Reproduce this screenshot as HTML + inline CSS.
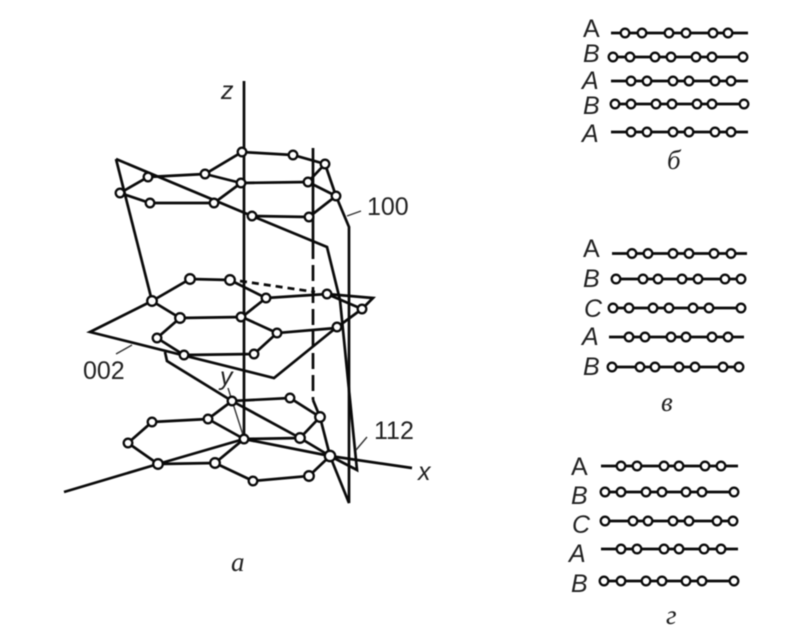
<!DOCTYPE html>
<html><head><meta charset="utf-8"><style>
html,body{margin:0;padding:0;background:#fff;width:792px;height:631px;overflow:hidden}
svg{display:block;filter:blur(0.45px)}
.s{font-family:"Liberation Sans",sans-serif;font-size:25px;fill:#222}
.i{font-style:italic}
.f{font-family:"Liberation Serif",serif;font-style:italic;font-size:27px;fill:#222}
.l{stroke:#0a0a0a;stroke-width:2.7;fill:none;stroke-linejoin:miter}
.t{stroke:#333;stroke-width:1.4;fill:none}
circle{fill:#fff;stroke:#0a0a0a;stroke-width:2.3}
</style></head><body>
<svg width="792" height="631" viewBox="0 0 792 631" xmlns="http://www.w3.org/2000/svg">
<g class="l">
<path d="M244 81V438"/>
<path d="M313 148V243"/>
<path d="M313 243V400" stroke-dasharray="16 6"/>
<path d="M313 400L320 417L330 456L349 503V227L336 196L325 164"/>
<path d="M116 159L252 216L327 247L340 300L357 470L330 456"/>
<path d="M116 159L152 301"/>
<path d="M152 301L90 332L274 378L337 327"/>
<path d="M327 294L373 298L362 309"/>
<path d="M240 281L315 292" stroke-dasharray="7 5"/>
<path d="M165 352L167 361L232 401L300 438L330 456"/>
<path d="M64 492L158 464L244 439L330 456L412 468"/>
<!-- top layer -->
<path d="M120 193L148 177L205 174L242 152L293 155L325 164L308 182L336 196L309 217L252 216"/>
<path d="M120 193L150 203L214 203L241 183L308 182"/>
<path d="M205 174L241 183"/>
<!-- middle layer -->
<path d="M152 301L190 279L230 280L266 298L242 317L180 318L152 301M180 318L157 338L184 355L254 354L277 333L336 328L362 309M266 298L327 294L362 309M242 317L277 333"/>
<!-- lower layer -->
<path d="M232 401L290 398L320 417L300 438L244 439L215 463L158 464L128 443L152 422L208 419L232 401M208 419L244 439M215 463L253 481L309 476L330 456"/>
</g>
<g class="t">
<path d="M228 388L243 435"/>
<path d="M347 216L361 211"/>
<path d="M356 450L367 437"/>
<path d="M116 354L132 345"/>
</g>
<g>
<circle cx="242" cy="152" r="4.300"/><circle cx="205" cy="174" r="4.300"/><circle cx="148" cy="177" r="4.300"/><circle cx="120" cy="193" r="4.300"/><circle cx="150" cy="203" r="4.300"/><circle cx="214" cy="203" r="4.300"/><circle cx="241" cy="183" r="4.300"/><circle cx="252" cy="216" r="4.300"/><circle cx="293" cy="155" r="4.300"/><circle cx="325" cy="164" r="4.300"/><circle cx="308" cy="182" r="4.300"/><circle cx="336" cy="196" r="4.300"/><circle cx="309" cy="217" r="4.300"/>
<circle cx="152" cy="301" r="4.800"/><circle cx="190" cy="279" r="4.800"/><circle cx="230" cy="280" r="4.800"/><circle cx="180" cy="318" r="4.800"/><circle cx="157" cy="338" r="4.300"/><circle cx="184" cy="355" r="4.300"/><circle cx="241" cy="317" r="4.300"/><circle cx="254" cy="354" r="4.300"/><circle cx="266" cy="298" r="4.300"/><circle cx="327" cy="294" r="4.300"/><circle cx="362" cy="309" r="4.300"/><circle cx="337" cy="327" r="4.300"/><circle cx="277" cy="333" r="4.300"/>
<circle cx="232" cy="401" r="4.300"/><circle cx="208" cy="419" r="4.300"/><circle cx="152" cy="422" r="4.300"/><circle cx="128" cy="443" r="4.300"/><circle cx="158" cy="464" r="4.800"/><circle cx="215" cy="463" r="4.800"/><circle cx="244" cy="439" r="4.300"/><circle cx="253" cy="481" r="4.300"/><circle cx="290" cy="398" r="4.300"/><circle cx="320" cy="417" r="4.800"/><circle cx="300" cy="438" r="4.800"/><circle cx="330" cy="456" r="5.200"/><circle cx="309" cy="476" r="4.800"/>
</g>
<text class="s i" x="221" y="99">z</text>
<text class="s" x="367" y="215">100</text>
<text class="s" x="83" y="379">002</text>
<text class="s" x="374" y="439">112</text>
<text class="s i" x="220" y="385">y</text>
<text class="s i" x="418" y="480">x</text>
<text class="f" x="231" y="571">a</text>
<g class="l">
<path d="M611 33H748M613 57H743M611 81H748M615 104H744M611 132H748"/>
<path d="M612 253.500H747M616 279H741M613 308H741M609 337H744M612 367H739"/>
<path d="M601 466H738M605 492H734M605 521H733M601 549H738M604 581H734"/>
</g>
<g>
<circle cx="625" cy="33" r="4.300"/><circle cx="642" cy="33" r="4.300"/><circle cx="669" cy="33" r="4.300"/><circle cx="686" cy="33" r="4.300"/><circle cx="713" cy="33" r="4.300"/><circle cx="728" cy="33" r="4.300"/>
<circle cx="613" cy="57" r="4.300"/><circle cx="630" cy="57" r="4.300"/><circle cx="655" cy="57" r="4.300"/><circle cx="671" cy="57" r="4.300"/><circle cx="696" cy="57" r="4.300"/><circle cx="712" cy="57" r="4.300"/><circle cx="743" cy="57" r="4.300"/>
<circle cx="631" cy="81" r="4.300"/><circle cx="647" cy="81" r="4.300"/><circle cx="673" cy="81" r="4.300"/><circle cx="689" cy="81" r="4.300"/><circle cx="715" cy="81" r="4.300"/><circle cx="731" cy="81" r="4.300"/>
<circle cx="615" cy="104" r="4.300"/><circle cx="631" cy="104" r="4.300"/><circle cx="656" cy="104" r="4.300"/><circle cx="672" cy="104" r="4.300"/><circle cx="697" cy="104" r="4.300"/><circle cx="712" cy="104" r="4.300"/><circle cx="744" cy="104" r="4.300"/>
<circle cx="631" cy="132" r="4.300"/><circle cx="647" cy="132" r="4.300"/><circle cx="673" cy="132" r="4.300"/><circle cx="689" cy="132" r="4.300"/><circle cx="715" cy="132" r="4.300"/><circle cx="731" cy="132" r="4.300"/>

<circle cx="632" cy="253.500" r="4.300"/><circle cx="648" cy="253.500" r="4.300"/><circle cx="673" cy="253.500" r="4.300"/><circle cx="689" cy="253.500" r="4.300"/><circle cx="714" cy="253.500" r="4.300"/><circle cx="731" cy="253.500" r="4.300"/>
<circle cx="616" cy="279" r="4.300"/><circle cx="643" cy="279" r="4.300"/><circle cx="658" cy="279" r="4.300"/><circle cx="682" cy="279" r="4.300"/><circle cx="698" cy="279" r="4.300"/><circle cx="725" cy="279" r="4.300"/><circle cx="741" cy="279" r="4.300"/>
<circle cx="613" cy="308" r="4.300"/><circle cx="629" cy="308" r="4.300"/><circle cx="653" cy="308" r="4.300"/><circle cx="669" cy="308" r="4.300"/><circle cx="693" cy="308" r="4.300"/><circle cx="709" cy="308" r="4.300"/><circle cx="741" cy="308" r="4.300"/>
<circle cx="629" cy="337" r="4.300"/><circle cx="645" cy="337" r="4.300"/><circle cx="671" cy="337" r="4.300"/><circle cx="686" cy="337" r="4.300"/><circle cx="712" cy="337" r="4.300"/><circle cx="728" cy="337" r="4.300"/>
<circle cx="612" cy="367" r="4.300"/><circle cx="640" cy="367" r="4.300"/><circle cx="655" cy="367" r="4.300"/><circle cx="679" cy="367" r="4.300"/><circle cx="695" cy="367" r="4.300"/><circle cx="723" cy="367" r="4.300"/><circle cx="739" cy="367" r="4.300"/>

<circle cx="621" cy="466" r="4.300"/><circle cx="637" cy="466" r="4.300"/><circle cx="664" cy="466" r="4.300"/><circle cx="679" cy="466" r="4.300"/><circle cx="705" cy="466" r="4.300"/><circle cx="721" cy="466" r="4.300"/>
<circle cx="605" cy="492" r="4.300"/><circle cx="621" cy="492" r="4.300"/><circle cx="646" cy="492" r="4.300"/><circle cx="662" cy="492" r="4.300"/><circle cx="686" cy="492" r="4.300"/><circle cx="702" cy="492" r="4.300"/><circle cx="734" cy="492" r="4.300"/>
<circle cx="605" cy="521" r="4.300"/><circle cx="633" cy="521" r="4.300"/><circle cx="648" cy="521" r="4.300"/><circle cx="673" cy="521" r="4.300"/><circle cx="689" cy="521" r="4.300"/><circle cx="717" cy="521" r="4.300"/><circle cx="733" cy="521" r="4.300"/>
<circle cx="621" cy="549" r="4.300"/><circle cx="637" cy="549" r="4.300"/><circle cx="664" cy="549" r="4.300"/><circle cx="679" cy="549" r="4.300"/><circle cx="704" cy="549" r="4.300"/><circle cx="721" cy="549" r="4.300"/>
<circle cx="604" cy="581" r="4.300"/><circle cx="621" cy="581" r="4.300"/><circle cx="646" cy="581" r="4.300"/><circle cx="662" cy="581" r="4.300"/><circle cx="686" cy="581" r="4.300"/><circle cx="702" cy="581" r="4.300"/><circle cx="734" cy="581" r="4.300"/>
</g>
<text class="s" x="583" y="37">A</text>
<text class="s i" x="583" y="62">B</text>
<text class="s i" x="582" y="89">A</text>
<text class="s i" x="583" y="114">B</text>
<text class="s i" x="582" y="142">A</text>
<text class="f" x="667" y="169">б</text>
<text class="s" x="583" y="257">A</text>
<text class="s i" x="583" y="287">B</text>
<text class="s i" x="584" y="317">C</text>
<text class="s i" x="582" y="345">A</text>
<text class="s i" x="583" y="375">B</text>
<text class="f" x="661" y="411">в</text>
<text class="s" x="571" y="475">A</text>
<text class="s i" x="571" y="504">B</text>
<text class="s i" x="572" y="533">C</text>
<text class="s i" x="569" y="562">A</text>
<text class="s i" x="571" y="592">B</text>
<text class="f" x="666" y="624">г</text>
</svg>
</body></html>
